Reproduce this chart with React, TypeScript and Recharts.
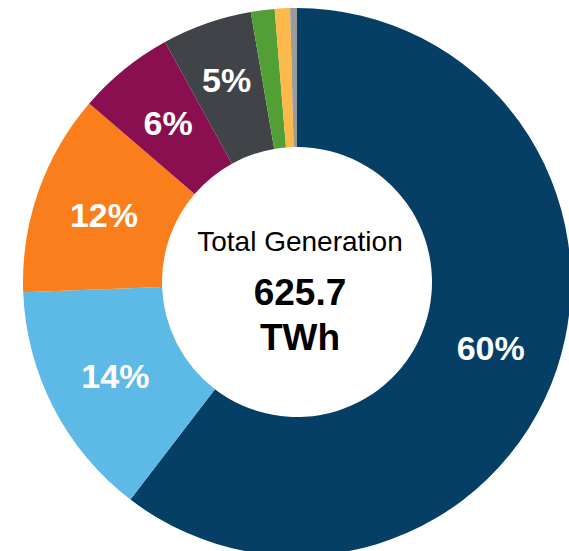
import React from "react";
import { PieChart, Pie, Cell } from "recharts";

// share of total generation, clockwise from 12 o'clock
const sources = ["Source A", "Source B", "Source C", "Source D", "Source E", "Source F", "Source G", "Source H"];
const shares = [60.4, 14.0, 11.9, 5.7, 5.3, 1.4, 0.9, 0.4];
const labels = ["60%", "14%", "12%", "6%", "5%", "", "", ""];
const colors = ["#063F66", "#5DB9E5", "#FA7E1C", "#8A0F50", "#404448", "#52A035", "#FDB84A", "#9B9B9B"];

const totalLabel = "Total Generation";
const totalValue = "625.7";
const totalUnit = "TWh";

const RAD = Math.PI / 180;

const data = sources.map((name, i) => ({ name, value: shares[i], label: labels[i] }));

const renderLabel = (props: any) => {
  const { cx, cy, midAngle, innerRadius, outerRadius, index } = props;
  const text = labels[index];
  if (!text) return null;
  // small slices near the top sit a bit further out
  const r = (innerRadius + outerRadius) / 2 + (index === 4 ? 9 : 0);
  const x = cx + r * Math.cos(-midAngle * RAD);
  const y = cy + r * Math.sin(-midAngle * RAD);
  return (
    <text
      x={x}
      y={y}
      fill="#fff"
      textAnchor="middle"
      dominantBaseline="central"
      fontSize={34}
      fontWeight="bold"
      fontFamily="Liberation Sans, Arial, sans-serif"
    >
      {text}
    </text>
  );
};

const App = () => {
  return (
    <div style={{ position: "absolute", left: 0, top: 0, width: 569, height: 551, background: "#fff", overflow: "hidden" }}>
      <PieChart width={569} height={551} margin={{ top: 0, right: 0, bottom: 0, left: 0 }}>
        <Pie
          data={data}
          dataKey="value"
          nameKey="name"
          cx={297}
          cy={282}
          innerRadius={135}
          outerRadius={274}
          startAngle={90}
          endAngle={-270}
          stroke="none"
          label={renderLabel}
          labelLine={false}
          isAnimationActive={false}
        >
          {data.map((d, i) => (
            <Cell key={d.name} fill={colors[i]} />
          ))}
        </Pie>
      </PieChart>
      <div
        style={{
          position: "absolute",
          left: 150,
          width: 300,
          top: 228,
          textAlign: "center",
          fontFamily: "Liberation Sans, Arial, sans-serif",
          color: "#000",
          lineHeight: 1,
        }}
      >
        <div style={{ fontSize: 28 }}>{totalLabel}</div>
        <div style={{ fontSize: 37, fontWeight: "bold", marginTop: 18 }}>{totalValue}</div>
        <div style={{ fontSize: 37, fontWeight: "bold", marginTop: 8 }}>{totalUnit}</div>
      </div>
    </div>
  );
};

export default App;
